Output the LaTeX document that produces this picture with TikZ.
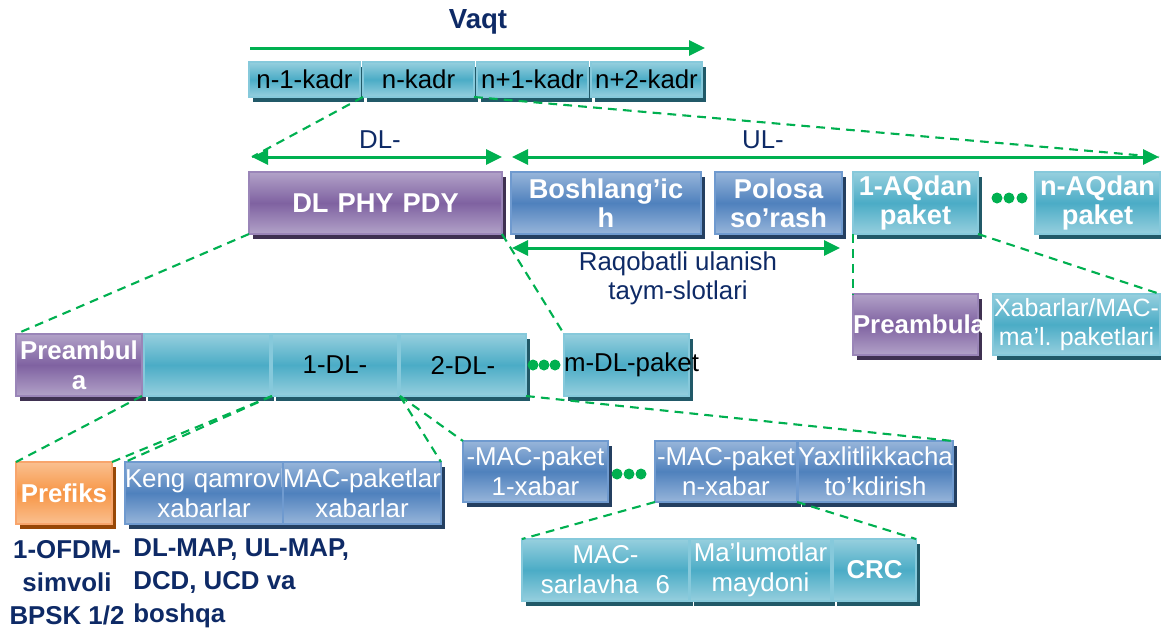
\documentclass[tikz,border=0pt]{standalone}
\usepackage{fontspec}
\setmainfont{Liberation Sans}
\usetikzlibrary{arrows.meta,positioning,shadows,calc}
\hyphenpenalty=10000
\exhyphenpenalty=10000
\definecolor{tealmid}{HTML}{4BACC6}
\definecolor{teallight}{HTML}{96CFDE}
\definecolor{tealedge}{HTML}{86C9DB}
\definecolor{tealshade}{HTML}{215968}
\definecolor{bluemid}{HTML}{4F81BD}
\definecolor{bluelight}{HTML}{97B5DA}
\definecolor{blueedge}{HTML}{6F9ACF}
\definecolor{blueshade}{HTML}{243F60}
\definecolor{purpmid}{HTML}{7F62A1}
\definecolor{purplight}{HTML}{B2A2C8}
\definecolor{purpedge}{HTML}{9A85B8}
\definecolor{purpshade}{HTML}{3F3151}
\definecolor{orngmid}{HTML}{F79646}
\definecolor{ornglight}{HTML}{FAC090}
\definecolor{orngedge}{HTML}{F8A56C}
\definecolor{orngshade}{HTML}{984807}
\definecolor{linkgreen}{HTML}{00B050}
\definecolor{navytext}{HTML}{0E2A66}
\tikzset{
  cell/.style={
    rectangle,
    line width=1pt,
    inner xsep=0pt,
    inner ysep=1pt,
    outer sep=0pt,
    align=center,
    minimum height=1.24cm,
    font=\fontsize{14.7}{17}\selectfont
  },
  tealcell/.style={
    cell,
    draw=tealedge,
    top color=teallight,
    bottom color=teallight,
    middle color=tealmid,
    general shadow={fill=tealshade, shadow xshift=0.08cm, shadow yshift=-0.1cm}
  },
  bluecell/.style={
    cell,
    draw=blueedge,
    top color=bluelight,
    bottom color=bluelight,
    middle color=bluemid,
    general shadow={fill=blueshade, shadow xshift=0.08cm, shadow yshift=-0.1cm}
  },
  purplecell/.style={
    cell,
    draw=purpedge,
    top color=purplight,
    bottom color=purplight,
    middle color=purpmid,
    general shadow={fill=purpshade, shadow xshift=0.08cm, shadow yshift=-0.1cm}
  },
  orangecell/.style={
    cell,
    draw=orngedge,
    top color=ornglight,
    bottom color=ornglight,
    middle color=orngmid,
    general shadow={fill=orngshade, shadow xshift=0.08cm, shadow yshift=-0.1cm}
  },
  framecell/.style={
    tealcell,
    text width=2.22cm,
    minimum height=0.7cm
  },
  lighttext/.style={
    text=white
  },
  heavytext/.style={
    text=white,
    font=\bfseries\fontsize{14.7}{17}\selectfont
  },
  headcell/.style={
    text=white,
    font=\bfseries\fontsize{15.5}{16.5}\selectfont
  },
  titletext/.style={
    text=navytext,
    inner sep=0pt,
    font=\bfseries\fontsize{15.7}{18}\selectfont
  },
  spantext/.style={
    text=navytext,
    inner sep=0pt,
    align=center,
    font=\fontsize{14.7}{16.5}\selectfont
  },
  notetext/.style={
    text=navytext,
    inner sep=0pt,
    font=\bfseries\fontsize{14.7}{18.7}\selectfont
  },
  timearrow/.style={
    ->,
    >={Triangle[length=3.2mm,width=3mm]},
    draw=linkgreen,
    line width=1.7pt
  },
  spanarrow/.style={
    <->,
    >={Triangle[length=3.2mm,width=3mm]},
    draw=linkgreen,
    line width=1.7pt
  },
  linkdash/.style={
    draw=linkgreen,
    line width=1.2pt,
    dash pattern=on 5pt off 3.5pt
  }
}
\begin{document}
\begin{tikzpicture}[node distance=0.04cm]
  \useasboundingbox (0,0) rectangle (23.22,-12.72);
  \node[titletext] (vaqt) at (9.56,-0.44) {Vaqt};
  \coordinate (tstart) at (5.0,-0.96);
  \coordinate (tend) at (14.1,-0.96);
  \draw[timearrow] (tstart) -- (tend);
  \node[framecell, anchor=north west] (fr1) at (4.98,-1.24) {n-1-kadr};
  \node[framecell, right=0.06cm of fr1] (fr2) {n-kadr};
  \node[framecell, right=0.06cm of fr2] (fr3) {n+1-kadr};
  \node[framecell, right=0.06cm of fr3] (fr4) {n+2-kadr};

  \node[spantext] (dltext) at (7.6,-2.8) {DL-};
  \node[spantext] (ultext) at (15.26,-2.8) {UL-};
  \coordinate (dlL) at (5.04,-3.14);
  \coordinate (dlR) at (10.04,-3.14);
  \coordinate (ulL) at (10.24,-3.14);
  \coordinate (ulR) at (23.18,-3.14);
  \draw[spanarrow] (dlL) -- (dlR);
  \draw[spanarrow] (ulL) -- (ulR);

  \node[purplecell, headcell, text width=5.06cm, anchor=north west] (dlphy) at (4.98,-3.44) {DL PHY PDY};
  \node[bluecell, headcell, text width=3.8cm, anchor=north west] (bosh) at (10.22,-3.44) {Boshlang’ic\\h};
  \node[bluecell, headcell, text width=2.54cm, anchor=north west] (polosa) at (14.3,-3.44) {Polosa\\so’rash};
  \node[tealcell, headcell, text width=2.5cm, anchor=north west] (aq1) at (17.06,-3.44) {1-AQdan\\paket};
  \node[tealcell, headcell, text width=2.5cm, anchor=north west] (aqn) at (20.7,-3.44) {n-AQdan\\paket};
  \foreach \dx in {0.38,0.62,0.88}
    \fill[linkgreen] ($(aq1.east)+(\dx,0.1)$) circle (0.11);

  \coordinate (rqL) at (10.24,-4.96);
  \coordinate (rqR) at (16.8,-4.96);
  \draw[spanarrow] (rqL) -- (rqR);
  \node[spantext] (raqobat) at (13.56,-5.56) {Raqobatli ulanish\\taym-slotlari};

  \node[purplecell, heavytext, text width=2.5cm, minimum height=1.22cm, anchor=north west] (pre2) at (17.06,-5.88) {Preambula};
  \node[tealcell, lighttext, text width=3.34cm, minimum height=1.22cm, font=\fontsize{14.2}{17}\selectfont, anchor=north west] (xabar) at (19.86,-5.88) {Xabarlar/MAC-\\ma’l.\ paketlari};

  \node[purplecell, heavytext, text width=2.52cm, anchor=north west] (pre1) at (0.32,-6.68) {Preambul\\a};
  \node[tealcell, text width=2.52cm, right=of pre1] (blank) {};
  \node[tealcell, text width=2.52cm, right=of blank] (dl1) {1-DL-};
  \node[tealcell, text width=2.52cm, right=of dl1] (dl2) {2-DL-};
  \foreach \dx in {0.14,0.36,0.58}
    \fill[linkgreen] ($(dl2.east)+(\dx,0)$) circle (0.11);
  \node[tealcell, text width=2.5cm, anchor=north west] (dlm) at (11.28,-6.68) {m-DL-paket};

  \node[orangecell, heavytext, text width=1.92cm, anchor=north west] (prefiks) at (0.32,-9.24) {Prefiks};
  \node[bluecell, lighttext, text width=3.16cm, anchor=north west] (keng) at (2.5,-9.24) {\mbox{Keng qamrovli}\\xabarlar};
  \node[bluecell, lighttext, text width=3.16cm, right=0cm of keng] (macpak) {MAC-paketlar\\xabarlar};
  \node[notetext, align=center] (ofdm) at (1.34,-11.66) {1-OFDM-\\simvoli\\BPSK 1/2};
  \node[notetext, align=left, anchor=west] (maps) at (2.66,-11.66) {DL-MAP, UL-MAP,\\DCD, UCD va\\boshqa};

  \node[bluecell, lighttext, text width=2.9cm, minimum height=1.22cm, anchor=north west] (xab1) at (9.26,-8.82) {-MAC-paket\\1-xabar};
  \foreach \dx in {0.18,0.42,0.66}
    \fill[linkgreen] ($(xab1.east)+(\dx,-0.05)$) circle (0.11);
  \node[bluecell, lighttext, text width=2.84cm, minimum height=1.22cm, anchor=north west] (xabn) at (13.1,-8.82) {-MAC-paket\\n-xabar};
  \node[bluecell, lighttext, text width=3.1cm, minimum height=1.22cm, right=0.02cm of xabn] (yaxlit) {Yaxlitlikkacha\\to’kdirish};

  \node[tealcell, lighttext, text width=3.34cm, anchor=north west] (macsar) at (10.44,-10.78) {MAC-\\sarlavha~~6};
  \node[tealcell, lighttext, text width=2.82cm, right=0.02cm of macsar] (malum) {Ma’lumotlar\\maydoni};
  \node[tealcell, heavytext, text width=1.66cm, right=of malum] (crc) {CRC};

  \draw[linkdash] (fr2.south west) -- (dlL);
  \draw[linkdash] (fr2.south east) -- (ulR);
  \draw[linkdash] (dlphy.south west) -- (pre1.north west);
  \draw[linkdash] (dlphy.south east) -- (dlm.north west);
  \draw[linkdash] (aq1.south west) -- (pre2.north west);
  \draw[linkdash] (aq1.south east) -- (xabar.north east);
  \draw[linkdash] (pre1.south east) -- (prefiks.north west);
  \draw[linkdash] (dl1.south west) -- (prefiks.north east);
  \draw[linkdash] (dl1.south west) -- (keng.north west);
  \draw[linkdash] (dl2.south west) -- (macpak.north east);
  \draw[linkdash] (dl2.south west) -- (xab1.north west);
  \draw[linkdash] (dl2.south east) -- (yaxlit.north east);
  \draw[linkdash] (xabn.south west) -- (macsar.north west);
  \draw[linkdash] (xabn.south east) -- (crc.north east);
\end{tikzpicture}
\end{document}
